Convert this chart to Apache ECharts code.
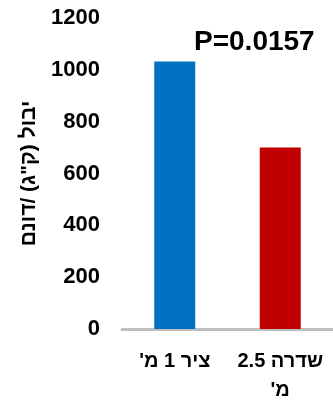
<!DOCTYPE html>
<html dir="rtl">
<head>
<meta charset="utf-8">
<script src="https://cdn.jsdelivr.net/npm/echarts@6/dist/echarts.min.js"></script>
<style>html,body{margin:0;padding:0;background:#fff;}#c{width:333px;height:405px;}</style>
</head>
<body>
<div id="c"></div>
<script>
const categories = ["ציר 1 מ'", "שדרה 2.5\nמ'"];
const values = [1032, 700];
const colors = ['#0070C0', '#C00000'];
const yTicks = [0, 200, 400, 600, 800, 1000, 1200];
const titleText = 'P=0.0157';
const yName = 'יבול (ק"ג) /דונם';

const chart = echarts.init(document.getElementById('c'), null, {renderer: 'canvas'});
const font = 'Liberation Sans, Arial, sans-serif';
chart.setOption({
  animation: false,
  title: {
    text: titleText, left: 189, top: 23,
    textStyle: {fontFamily: font, fontSize: 28, fontWeight: 'bold', color: '#000'}
  },
  grid: {left: 122, width: 214, top: 18, height: 322},
  xAxis: {
    type: 'category', data: categories,
    axisLine: {lineStyle: {color: '#bfbfbf', width: 3}},
    axisTick: {show: false},
    axisLabel: {fontFamily: font, fontSize: 20, fontWeight: 'bold', color: '#000', margin: 18, lineHeight: 29, interval: 0}
  },
  yAxis: {
    type: 'value', min: yTicks[0], max: yTicks[yTicks.length - 1], interval: 200,
    name: yName, nameLocation: 'middle', nameGap: 82, nameRotate: 90,
    nameTextStyle: {fontFamily: font, fontSize: 21, fontWeight: 'bold', color: '#000'},
    axisLine: {show: false}, axisTick: {show: false}, splitLine: {show: false},
    axisLabel: {fontFamily: font, fontSize: 22, fontWeight: 'bold', color: '#000', margin: 22,
      formatter: v => String(v)}
  },
  series: [{
    type: 'bar', barWidth: 41,
    data: values.map((v, i) => ({value: v, itemStyle: {color: colors[i]}}))
  }]
});
</script>
</body>
</html>
